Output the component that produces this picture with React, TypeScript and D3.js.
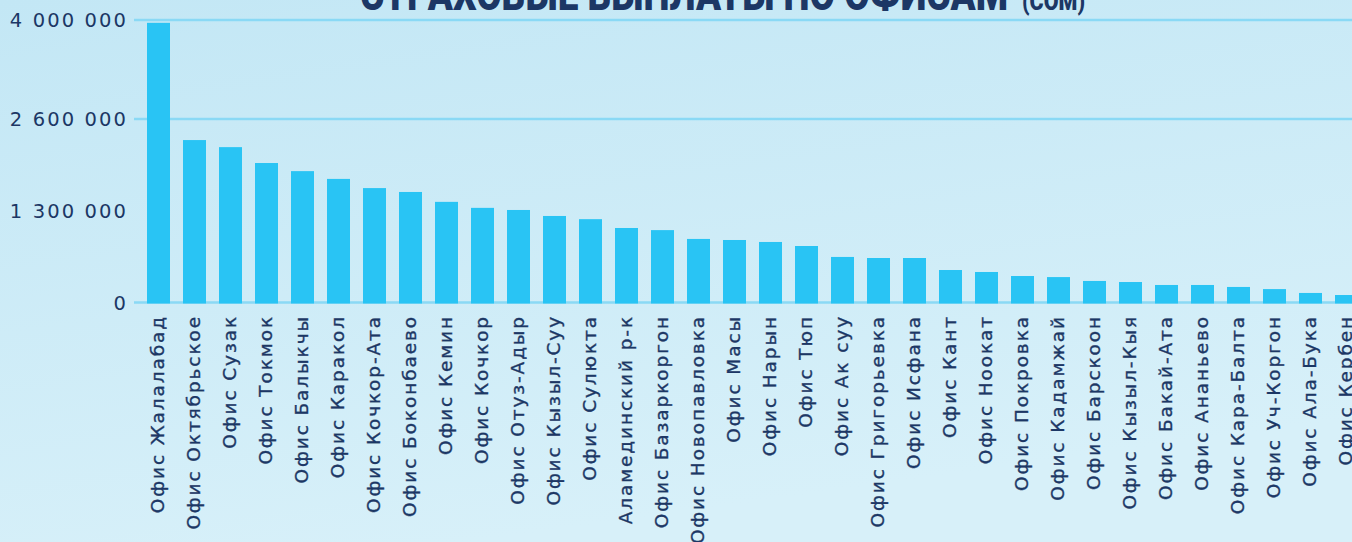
import React from 'react';
import * as d3 from 'd3';

const W = 1352;
const H = 542;

// Offices, sorted by payouts (сом)
const offices = [
  'Офис Жалалабад', 'Офис Октябрьское', 'Офис Сузак', 'Офис Токмок', 'Офис Балыкчы',
  'Офис Каракол', 'Офис Кочкор-Ата', 'Офис Боконбаево', 'Офис Кемин', 'Офис Кочкор',
  'Офис Отуз-Адыр', 'Офис Кызыл-Суу', 'Офис Сулюкта', 'Аламединский р-к', 'Офис Базаркоргон',
  'Офис Новопавловка', 'Офис Масы', 'Офис Нарын', 'Офис Тюп', 'Офис Ак суу',
  'Офис Григорьевка', 'Офис Исфана', 'Офис Кант', 'Офис Ноокат', 'Офис Покровка',
  'Офис Кадамжай', 'Офис Барскоон', 'Офис Кызыл-Кыя', 'Офис Бакай-Ата', 'Офис Ананьево',
  'Офис Кара-Балта', 'Офис Уч-Коргон', 'Офис Ала-Бука', 'Офис Кербен',
];

const payouts = [
  3960000, 2300000, 2200000, 1975000, 1860000,
  1750000, 1620000, 1565000, 1425000, 1340000,
  1310000, 1225000, 1180000, 1055000, 1025000,
  900000, 885000, 857000, 800000, 645000,
  630000, 630000, 460000, 432000, 375000,
  360000, 305000, 290000, 248000, 248000,
  220000, 190000, 135000, 106000,
];

const yTicks = [0, 1300000, 2600000, 4000000];
const gridTicks = [0, 2600000, 4000000];

const title = 'СТРАХОВЫЕ ВЫПЛАТЫ ПО ОФИСАМ';
const titleUnit = '(СОМ)';

const NAVY = '#1c3765';
const BAR = '#29c4f4';
const GRID = '#8ad9f5';

const fmt = (v: number) => d3.format(',')(v).replace(/,/g, ' ');

const App: React.FC = () => {
  const x = d3.scaleBand<string>()
    .domain(offices)
    .range([147, 1358])
    .paddingInner(13 / 36)
    .paddingOuter(0)
    .align(0);

  const y = d3.scaleLinear().domain([0, 4000000]).range([302.5, 20]);

  return (
    <div style={{ position: 'fixed', left: 0, top: 0, width: W, height: H }}>
      <svg width={W} height={H} style={{ display: 'block' }}>
        <defs>
          <linearGradient id="bg" x1="0" y1="0" x2="0.35" y2="1">
            <stop offset="0%" stopColor="#c3e7f5" />
            <stop offset="100%" stopColor="#d7f0f9" />
          </linearGradient>
        </defs>
        <rect width={W} height={H} fill="url(#bg)" />

        {/* title, cut off at the top like the source */}
        <text x={360} y={10} fill={NAVY} fontFamily="Roboto, 'DejaVu Sans Condensed', sans-serif"
          fontWeight={900} fontSize={44} textLength={648} lengthAdjust="spacingAndGlyphs">
          {title}
        </text>
        <text x={1022} y={10} fill={NAVY} fontFamily="Roboto, 'DejaVu Sans Condensed', sans-serif"
          fontWeight={900} fontSize={26} textLength={63} lengthAdjust="spacingAndGlyphs">
          {titleUnit}
        </text>

        {/* grid */}
        {gridTicks.map(t => (
          <line key={t} x1={134} x2={W} y1={y(t)} y2={y(t)} stroke={GRID} strokeWidth={2.5} />
        ))}

        {/* y tick labels */}
        {yTicks.map(t => (
          <text key={t} x={128} y={y(t)} dy="0.36em" textAnchor="end" fill={NAVY}
            fontFamily="'DejaVu Sans', sans-serif" fontSize={19.5} letterSpacing={2.1}>
            {fmt(t)}
          </text>
        ))}

        {/* bars */}
        {offices.map((o, i) => (
          <rect key={o} x={x(o)} y={y(payouts[i])} width={x.bandwidth()}
            height={y(0) - y(payouts[i]) + 1} fill={BAR} />
        ))}

        {/* x labels */}
        {offices.map(o => {
          const cx = (x(o) ?? 0) + x.bandwidth() / 2 - 1.5;
          return (
            <text key={o} transform={`translate(${cx},315) rotate(-90)`} textAnchor="end"
              dy="0.36em" fill={NAVY} stroke={NAVY} strokeWidth={0.35}
              fontFamily="'DejaVu Sans', sans-serif" fontSize={18.5} letterSpacing={1.9}>
              {o}
            </text>
          );
        })}
      </svg>
    </div>
  );
};

export default App;
